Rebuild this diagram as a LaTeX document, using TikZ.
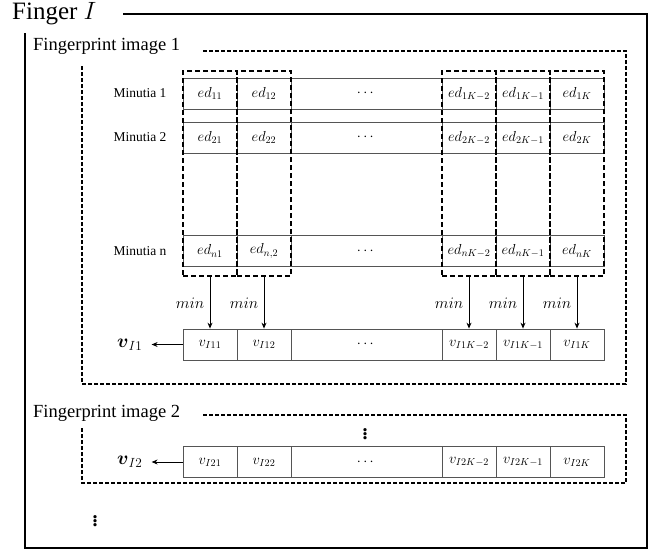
\RequirePackage{fix-cm}
\documentclass[tikz,border=0pt]{standalone}
\usepackage{amsmath}
\usepackage{fontspec}
\setmainfont{Liberation Serif}
\usetikzlibrary{arrows.meta,positioning}
\definecolor{gridline}{HTML}{555555}

\tikzset{
  cell/.style={draw=gridline, line width=0.8pt, minimum height=31pt, inner sep=0pt, font=\fontsize{14.5}{14.5}\selectfont},
  colbox/.style={draw, line width=1.9pt, dash pattern=on 5pt off 3pt, minimum width=54pt, minimum height=205pt, inner sep=0pt},
  fpbox/.style={line width=1.4pt, dash pattern=on 4pt off 2pt},
  minarrow/.style={-{Stealth[length=6pt,width=5pt]}, line width=0.9pt},
  rowlabel/.style={font=\fontsize{13.5}{13.5}\selectfont},
  fptitle/.style={font=\fontsize{18.5}{18.5}\selectfont, anchor=west, inner sep=0pt},
  vlabel/.style={font=\fontsize{19}{19}\selectfont, inner xsep=9pt},
  vdotsmark/.style={font=\fontsize{20}{20}\selectfont\bfseries, inner sep=0pt},
}

\begin{document}
\begin{tikzpicture}[x=1pt,y=-1pt]
  \useasboundingbox (0,0) rectangle (660,551);

  % Finger frame
  \node[font=\fontsize{25}{25}\selectfont, anchor=west, inner sep=0pt] (finger) at (12,14) {Finger $I$};
  \draw[line width=1.6pt] (123,14) -- (647,14) -- (647,548) -- (25,548) -- (25,33);

  % Fingerprint image 1
  \node[fptitle] (fp1) at (33,46) {Fingerprint image 1};
  \draw[fpbox] (203,51) -- (626,51) -- (626,384) -- (82,384) -- (82,66);

  % Minutia rows
  \foreach \r/\y/\s in {1/93.5/1, 2/137.5/2, n/251/{n,}} {
    \node[rowlabel] (lab\r) at (140,\y) {Minutia \r};
    \node[cell, minimum width=54pt] (m\r c1) at (210,\y) {$ed_{\r1}$};
    \node[cell, minimum width=54pt] (m\r c2) at (264,\y) {$ed_{\s2}$};
    \node[cell, minimum width=151pt] (m\r c3) at (366.5,\y) {$\cdots$};
    \node[cell, minimum width=54pt] (m\r c4) at (469,\y) {$ed_{\r K-2}$};
    \node[cell, minimum width=54pt] (m\r c5) at (523,\y) {$ed_{\r K-1}$};
    \node[cell, minimum width=54pt] (m\r c6) at (577,\y) {$ed_{\r K}$};
  }

  % Feature vectors
  \foreach \f/\y in {1/344.5, 2/462} {
    \node[cell, minimum width=54pt] (v\f c1) at (210,\y) {$v_{I\f1}$};
    \node[cell, minimum width=54pt] (v\f c2) at (264,\y) {$v_{I\f2}$};
    \node[cell, minimum width=151pt] (v\f c3) at (366.5,\y) {$\cdots$};
    \node[cell, minimum width=54pt] (v\f c4) at (469,\y) {$v_{I\f K-2}$};
    \node[cell, minimum width=54pt] (v\f c5) at (523,\y) {$v_{I\f K-1}$};
    \node[cell, minimum width=54pt] (v\f c6) at (577,\y) {$v_{I\f K}$};
    \node[vlabel, left=31pt of v\f c1] (vlab\f) {$\boldsymbol{v}_{I\f}$};
    \draw[minarrow] (v\f c1.west) -- (vlab\f.east);
  }

  % Column boxes and min arrows
  \foreach \c/\x in {1/210, 2/264, 4/469, 5/523, 6/577} {
    \node[colbox] (box\c) at (\x,173.5) {};
    \draw[minarrow] (box\c.south) -- node[left, xshift=-2pt, font=\fontsize{16}{16}\selectfont] {$min$} (v1c\c.north);
  }

  % Fingerprint image 2
  \node[fptitle] (fp2) at (33,413) {Fingerprint image 2};
  \draw[fpbox] (203,415) -- (626,415) -- (626,483) -- (82,483) -- (82,428);
  \node[vdotsmark] (dots2) at (365,431) {$\boldsymbol{\vdots}$};

  % More images
  \node[vdotsmark] (dots) at (95,518) {$\boldsymbol{\vdots}$};
\end{tikzpicture}
\end{document}
